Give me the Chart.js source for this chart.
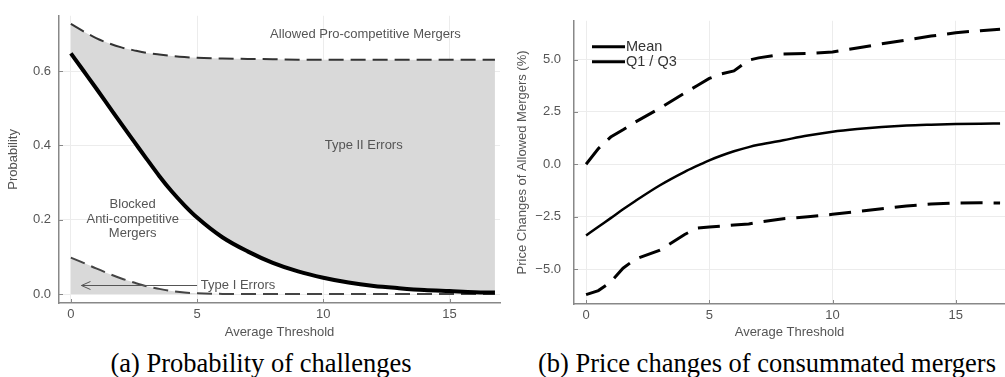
<!DOCTYPE html>
<html>
<head>
<meta charset="utf-8">
<script src="https://cdn.jsdelivr.net/npm/chart.js@4/dist/chart.umd.min.js"></script>
<style>
  html, body { margin: 0; padding: 0; background: #fff; }
  #wrap { position: relative; width: 1005px; height: 377px; overflow: hidden; }
  canvas { position: absolute; top: 0; }
  #c1 { left: 0; }
  #c2 { left: 502px; }
  .cap { position: absolute; top: 350px; font-family: "Liberation Serif", "Times New Roman", serif;
         font-size: 26.5px; line-height: 26.5px; color: #000; white-space: nowrap; transform: translateX(-50%); }
</style>
</head>
<body>
<div id="wrap">
  <canvas id="c1" width="502" height="340"></canvas>
  <canvas id="c2" width="503" height="340"></canvas>
  <div class="cap" style="left:261px">(a) Probability of challenges</div>
  <div class="cap" style="left:767px">(b) Price changes of consummated mergers</div>
</div>
<script>
// ---------- Data: panel (a) ----------
const THRESH_A = [0, 0.5, 1, 1.5, 2, 2.5, 3, 3.5, 4, 4.5, 5, 6, 7, 8, 9, 10, 11, 12, 13, 14, 15, 16, 16.8];
const PROB_UPPER = [0.727, 0.707, 0.689, 0.675, 0.664, 0.656, 0.649, 0.645, 0.641, 0.638, 0.636, 0.634, 0.633, 0.632, 0.631, 0.631, 0.631, 0.631, 0.631, 0.631, 0.631, 0.631, 0.631];
const PROB_CHALLENGE = [0.648, 0.601, 0.554, 0.506, 0.458, 0.411, 0.364, 0.318, 0.276, 0.239, 0.206, 0.153, 0.115, 0.084, 0.061, 0.044, 0.031, 0.022, 0.016, 0.011, 0.008, 0.005, 0.004];
const PROB_LOWER = [0.098, 0.084, 0.069, 0.055, 0.042, 0.031, 0.021, 0.014, 0.008, 0.004, 0.002, 0.0005, 0, 0, 0, 0, 0, 0, 0, 0, 0, 0, 0];
const X_TICKS_A = [0, 5, 10, 15];
const Y_TICKS_A = [0, 0.2, 0.4, 0.6];
const Y_TICK_LABELS_A = ['0.0', '0.2', '0.4', '0.6'];

// ---------- Data: panel (b) ----------
const THRESH_B = [0, 0.5, 1, 1.5, 2, 3, 4, 4.5, 5, 5.5, 6, 6.6, 7, 8, 9, 10, 11, 12, 13, 14, 15, 16, 16.8];
const PRICE_MEAN = [-3.40, -2.98, -2.57, -2.15, -1.75, -1.00, -0.36, -0.08, 0.19, 0.42, 0.62, 0.82, 0.93, 1.15, 1.37, 1.55, 1.68, 1.78, 1.85, 1.89, 1.92, 1.94, 1.95];
const PRICE_Q3 = [0.00, 0.75, 1.30, 1.65, 2.02, 2.68, 3.40, 3.75, 4.10, 4.32, 4.46, 4.97, 5.08, 5.26, 5.29, 5.36, 5.55, 5.75, 5.93, 6.12, 6.28, 6.38, 6.45];
const PRICE_Q1 = [-6.22, -6.03, -5.62, -4.96, -4.53, -4.10, -3.35, -3.05, -2.99, -2.95, -2.90, -2.85, -2.77, -2.60, -2.50, -2.39, -2.26, -2.12, -1.99, -1.90, -1.85, -1.84, -1.85];
const X_TICKS_B = [0, 5, 10, 15];
const Y_TICKS_B = [-5, -2.5, 0, 2.5, 5];
const Y_TICK_LABELS_B = ['\u22125.0', '\u22122.5', '0.0', '2.5', '5.0'];
const LEGEND_B = ['Mean', 'Q1 / Q3'];

// ---------- Annotation texts for panel (a) ----------
const NOTES_A = [
  { lines: ['Allowed Pro-competitive Mergers'], x: 11.67, y: 0.70, align: 'center' },
  { lines: ['Type II Errors'], x: 11.6, y: 0.40, align: 'center' },
  { lines: ['Blocked', 'Anti-competitive', 'Mergers'], x: 2.45, y: 0.24, align: 'center' },
  { lines: ['Type I Errors'], x: 5.15, y: 0.023, align: 'left' }
];
const ARROW_A = { fromX: 5.0, toX: 0.42, y: 0.025 };

const FONT = '"Liberation Sans", Arial, Helvetica, sans-serif';
const GREY_TXT = '#555';
const FILL = '#d9d9d9';

function pts(xs, ys) { return xs.map((x, i) => ({ x: x, y: ys[i] })); }

const tickMarks = {
  id: 'tickMarks',
  afterDatasetsDraw(chart) {
    const ctx = chart.ctx, a = chart.chartArea;
    const xs = chart.scales.x, ys = chart.scales.y;
    ctx.save();
    ctx.strokeStyle = '#888';
    ctx.lineWidth = 1;
    ctx.beginPath();
    xs.ticks.forEach(t => { const px = Math.round(xs.getPixelForValue(t.value)) + 0.5; ctx.moveTo(px, a.bottom); ctx.lineTo(px, a.bottom - 4); });
    ys.ticks.forEach(t => { const py = Math.round(ys.getPixelForValue(t.value)) + 0.5; ctx.moveTo(a.left, py); ctx.lineTo(a.left + 4, py); });
    ctx.stroke();
    ctx.restore();
  }
};

const notesPlugin = {
  id: 'notes',
  afterDatasetsDraw(chart) {
    if (chart.canvas.id !== 'c1') return;
    const ctx = chart.ctx, xs = chart.scales.x, ys = chart.scales.y;
    ctx.save();
    ctx.fillStyle = GREY_TXT;
    ctx.font = '13px ' + FONT;
    ctx.textBaseline = 'middle';
    NOTES_A.forEach(n => {
      ctx.textAlign = n.align;
      const px = xs.getPixelForValue(n.x), py = ys.getPixelForValue(n.y);
      n.lines.forEach((ln, i) => ctx.fillText(ln, px, py + i * 14.5));
    });
    const x0 = xs.getPixelForValue(ARROW_A.fromX), x1 = xs.getPixelForValue(ARROW_A.toX), y = Math.round(ys.getPixelForValue(ARROW_A.y)) + 0.5;
    ctx.strokeStyle = '#555';
    ctx.lineWidth = 1;
    ctx.beginPath();
    ctx.moveTo(x0, y); ctx.lineTo(x1, y);
    ctx.moveTo(x1 + 9, y - 4); ctx.lineTo(x1, y); ctx.lineTo(x1 + 9, y + 4);
    ctx.stroke();
    ctx.restore();
  }
};

const legendPlugin = {
  id: 'customLegend',
  afterDatasetsDraw(chart) {
    if (chart.canvas.id !== 'c2') return;
    const ctx = chart.ctx, a = chart.chartArea;
    ctx.save();
    ctx.font = '14.5px ' + FONT;
    ctx.textBaseline = 'middle';
    ctx.textAlign = 'left';
    LEGEND_B.forEach((lab, i) => {
      const y = a.top + 26 + i * 15;
      ctx.strokeStyle = '#000';
      ctx.lineWidth = 3;
      ctx.setLineDash([]);
      ctx.beginPath();
      ctx.moveTo(a.left + 18, y); ctx.lineTo(a.left + 51, y);
      ctx.stroke();
      ctx.fillStyle = '#333';
      ctx.fillText(lab, a.left + 52, y + 0.5);
    });
    ctx.restore();
  }
};

function makeScales(opt) {
  return {
    x: {
      type: 'linear', min: opt.xmin, max: opt.xmax,
      afterFit: s => { s.height = opt.xh; },
      afterBuildTicks: s => { s.ticks = opt.xticks.map(v => ({ value: v })); },
      ticks: { font: { family: FONT, size: 13 }, color: GREY_TXT, padding: 4, maxRotation: 0,
               callback: v => String(v) },
      grid: { color: '#ececec', lineWidth: 1, drawTicks: false },
      border: { display: true, color: '#888', width: 1.5 },
      title: { display: true, text: 'Average Threshold', font: { family: FONT, size: 13 }, color: GREY_TXT, padding: { top: 0, bottom: 0 } }
    },
    y: {
      type: 'linear', min: opt.ymin, max: opt.ymax,
      afterFit: s => { s.width = opt.yw; },
      afterBuildTicks: s => { s.ticks = opt.yticks.map(v => ({ value: v })); },
      ticks: { font: { family: FONT, size: 13 }, color: GREY_TXT, padding: opt.ypad,
               callback: (v) => { const i = opt.yticks.indexOf(v); return i >= 0 ? opt.ylabels[i] : ''; } },
      grid: { color: '#ececec', lineWidth: 1, drawTicks: false },
      border: { display: true, color: '#888', width: 1.5 },
      title: { display: true, text: opt.ytitle, font: { family: FONT, size: 13 }, color: GREY_TXT, padding: { top: opt.ytp, bottom: 0 } }
    }
  };
}

const common = {
  responsive: false, animation: false, devicePixelRatio: 1,
  plugins: { legend: { display: false }, tooltip: { enabled: false }, filler: { drawTime: 'beforeDatasetsDraw' } },
  elements: { point: { radius: 0 } }
};

new Chart(document.getElementById('c1'), {
  type: 'line',
  data: {
    datasets: [
      { label: 'Upper', data: pts(THRESH_A, PROB_UPPER), borderColor: '#333', borderWidth: 2, borderDash: [15, 7],
        fill: '+1', backgroundColor: FILL, cubicInterpolationMode: 'monotone' },
      { label: 'Challenge', data: pts(THRESH_A, PROB_CHALLENGE), borderColor: '#000', borderWidth: 4,
        fill: false, cubicInterpolationMode: 'monotone' },
      { label: 'Lower', data: pts(THRESH_A, PROB_LOWER), borderColor: '#444', borderWidth: 2, borderDash: [15, 7],
        fill: 'origin', backgroundColor: FILL, cubicInterpolationMode: 'monotone' }
    ]
  },
  options: Object.assign({}, common, {
    layout: { padding: { top: 13, right: 2, left: 0, bottom: 0 } },
    scales: makeScales({ xmin: -0.47, xmax: 17, ymin: -0.024, ymax: 0.749, xh: 37, yw: 59, ypad: 8, ytp: 6,
      xticks: X_TICKS_A, yticks: Y_TICKS_A, ylabels: Y_TICK_LABELS_A, ytitle: 'Probability' })
  }),
  plugins: [tickMarks, notesPlugin]
});

new Chart(document.getElementById('c2'), {
  type: 'line',
  data: {
    datasets: [
      { label: LEGEND_B[0], data: pts(THRESH_B, PRICE_MEAN), borderColor: '#000', borderWidth: 2.5,
        fill: false, cubicInterpolationMode: 'monotone' },
      { label: 'Q3', data: pts(THRESH_B, PRICE_Q3), borderColor: '#000', borderWidth: 3, borderDash: [22, 11],
        fill: false, tension: 0 },
      { label: 'Q1', data: pts(THRESH_B, PRICE_Q1), borderColor: '#000', borderWidth: 3, borderDash: [22, 11],
        fill: false, tension: 0 }
    ]
  },
  options: Object.assign({}, common, {
    layout: { padding: { top: 13, right: 0, left: 0, bottom: 0 } },
    scales: makeScales({ xmin: -0.49, xmax: 17, ymin: -6.67, ymax: 6.85, xh: 36, yw: 72, ypad: 13, ytp: 13,
      xticks: X_TICKS_B, yticks: Y_TICKS_B, ylabels: Y_TICK_LABELS_B, ytitle: 'Price Changes of Allowed Mergers (%)' })
  }),
  plugins: [tickMarks, legendPlugin]
});
</script>
</body>
</html>
